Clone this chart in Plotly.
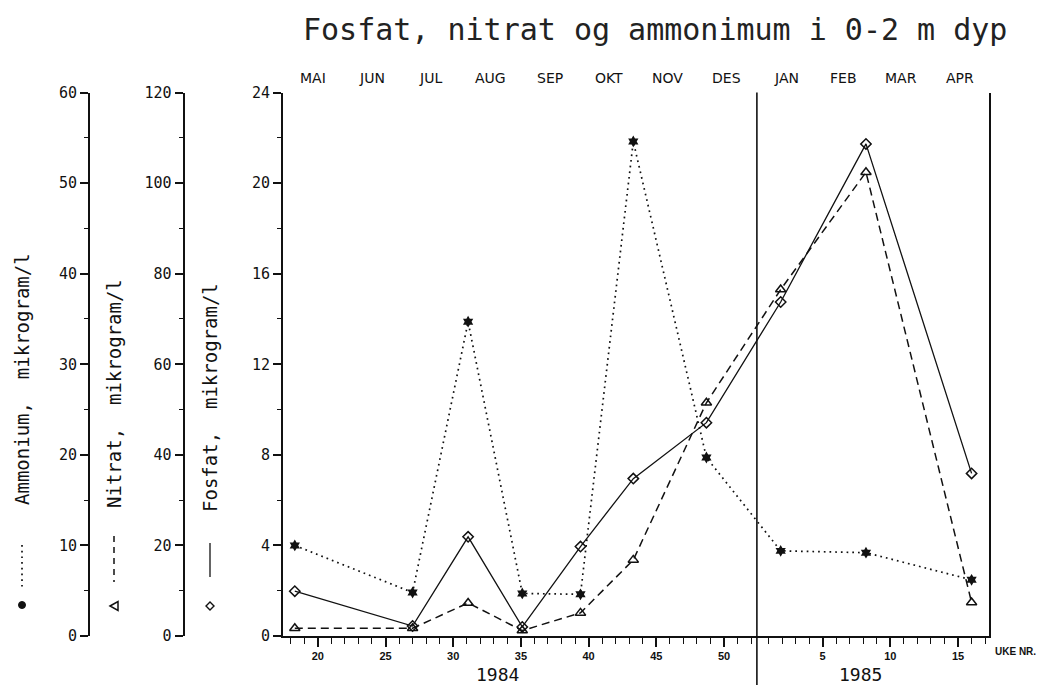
import datetime as dt
import plotly.graph_objects as go

# ---------------- data ----------------
# sampling weeks (UKE NR.), 1984 and 1985
week_1984 = [18.3, 27.0, 31.1, 35.1, 39.4, 43.3, 48.7]
week_1985 = [1.9, 8.2, 16.0]
# concentrations, mikrogram/l
fosfat = [1.98, 0.44, 4.38, 0.40, 3.95, 6.95, 9.42, 14.75, 21.73, 7.18]
nitrat = [1.7, 1.7, 7.3, 1.2, 5.1, 16.8, 51.5, 76.5, 102.4, 7.4]
ammonium = [10.0, 4.8, 34.7, 4.7, 4.6, 54.6, 19.7, 9.4, 9.2, 6.2]

# tick labels
months = ["MAI", "JUN", "JUL", "AUG", "SEP", "OKT", "NOV", "DES",
          "JAN", "FEB", "MAR", "APR"]
week_labels_1984 = [20, 25, 30, 35, 40, 45, 50]
week_labels_1985 = [5, 10, 15]
fosfat_ticks = [0, 4, 8, 12, 16, 20, 24]
nitrat_ticks = [0, 20, 40, 60, 80, 100, 120]
ammonium_ticks = [0, 10, 20, 30, 40, 50, 60]

title = "Fosfat, nitrat og ammonimum i 0-2 m dyp"

# ---------------- geometry helpers ----------------
W, H = 1041, 685
BASE = dt.date(1984, 1, 1)


def pos(year, week):
    """Position (days since 1984-01-01) of a week number in a year."""
    return (dt.date(year, 1, 1) - BASE).days + 7 * week - 1


def px(x):
    return x / W


def py(y):
    return 1 - y / H


month_dates = [dt.date(1984, m, 1) for m in range(5, 13)] + \
              [dt.date(1985, m, 1) for m in range(1, 6)]
month_bounds = [(d - BASE).days for d in month_dates]
month_mids = [(a + b) / 2 for a, b in zip(month_bounds[:-1], month_bounds[1:])]
x_range = [month_bounds[0], month_bounds[-1]]
year_line = (dt.date(1985, 1, 1) - BASE).days

x = [pos(1984, w) for w in week_1984] + [pos(1985, w) for w in week_1985]

major_vals = [pos(1984, w) for w in week_labels_1984] + [pos(1985, w) for w in week_labels_1985]
major_text = [str(w) for w in week_labels_1984] + [str(w) for w in week_labels_1985]
minor_vals = [pos(1984, w) for w in range(17, 53)] + [pos(1985, w) for w in range(1, 19)]
minor_vals = [v for v in minor_vals if x_range[0] < v < x_range[1]]

xd = [px(283), px(989)]
yd = [1 - 636 / H, 1 - 92.5 / H]

BLACK = "#111111"
MONO = "DejaVu Sans Mono, Liberation Mono, monospace"
SANS = "Liberation Sans, Arial, sans-serif"
DSANS = "DejaVu Sans, Liberation Sans, sans-serif"

fig = go.Figure()
fig.add_trace(go.Scatter(
    x=x, y=ammonium, yaxis="y2", mode="lines+markers", name="Ammonium",
    line=dict(color=BLACK, width=1.7, dash="1.7px,4px"),
    marker=dict(symbol="hexagram", size=9, color=BLACK)))
fig.add_trace(go.Scatter(
    x=x, y=nitrat, yaxis="y3", mode="lines+markers", name="Nitrat",
    line=dict(color=BLACK, width=1.5, dash="8px,5px"),
    marker=dict(symbol="triangle-up-open", size=9, color=BLACK, line=dict(width=1.5))))
fig.add_trace(go.Scatter(
    x=x, y=fosfat, mode="lines+markers", name="Fosfat",
    line=dict(color=BLACK, width=1.3),
    marker=dict(symbol="diamond-open", size=8, color=BLACK, line=dict(width=1.5))))

ytick = dict(ticks="outside", ticklen=8, tickwidth=1.5, tickcolor=BLACK,
             showline=True, linewidth=1.8, linecolor=BLACK, showgrid=False,
             zeroline=False, fixedrange=True,
             tickfont=dict(family=MONO, size=15, color=BLACK))

fig.update_layout(
    width=W, height=H, showlegend=False,
    paper_bgcolor="white", plot_bgcolor="white",
    margin=dict(l=0, r=0, t=0, b=0, autoexpand=False),
    xaxis=dict(domain=xd, range=x_range, anchor="y", showline=True, linewidth=2,
               linecolor=BLACK, showgrid=False, zeroline=False, fixedrange=True,
               tickmode="array", tickvals=major_vals, ticktext=major_text,
               ticks="outside", ticklen=9, tickwidth=1.5, tickcolor=BLACK,
               tickfont=dict(family=SANS, size=11, color=BLACK, weight="bold"),
               minor=dict(tickmode="array", tickvals=minor_vals, ticks="outside",
                          ticklen=6, tickwidth=1.3, tickcolor=BLACK, showgrid=False)),
    xaxis2=dict(overlaying="x", side="top", anchor="y", range=x_range,
                showline=True, linewidth=1.8, linecolor=BLACK, showgrid=False,
                zeroline=False, fixedrange=True, showticklabels=False,
                tickmode="array", tickvals=month_bounds, ticks="outside",
                ticklen=6, tickwidth=1.5, tickcolor=BLACK,
                minor=dict(tickmode="array", tickvals=minor_vals, ticks="inside",
                           ticklen=5, tickwidth=1.3, tickcolor=BLACK, showgrid=False)),
    xaxis3=dict(overlaying="x", side="top", anchor="y", range=x_range,
                showline=False, showgrid=False, zeroline=False, fixedrange=True,
                showticklabels=False, tickmode="array", tickvals=major_vals,
                ticks="inside", ticklen=9, tickwidth=1.5, tickcolor=BLACK),
    yaxis=dict(domain=yd, range=[0, 24], tickmode="array", tickvals=fosfat_ticks,
               mirror=True,
               minor=dict(tickmode="array", tickvals=[v + 2 for v in fosfat_ticks[:-1]],
                          ticks="outside", ticklen=4, tickwidth=1.3, tickcolor=BLACK),
               **ytick),
    yaxis2=dict(overlaying="y", anchor="free", position=px(89), side="left",
                range=[0, 60], tickmode="array", tickvals=ammonium_ticks,
                minor=dict(tickmode="array", tickvals=[v + 5 for v in ammonium_ticks[:-1]],
                           ticks="outside", ticklen=4, tickwidth=1.3, tickcolor=BLACK),
                **ytick),
    yaxis3=dict(overlaying="y", anchor="free", position=px(183.5), side="left",
                range=[0, 120], tickmode="array", tickvals=nitrat_ticks,
                minor=dict(tickmode="array", tickvals=[v + 10 for v in nitrat_ticks[:-1]],
                           ticks="outside", ticklen=4, tickwidth=1.3, tickcolor=BLACK),
                **ytick),
)

shapes = [
    # year boundary line
    dict(type="line", xref="x", yref="paper", x0=year_line, x1=year_line,
         y0=0, y1=yd[1], line=dict(color=BLACK, width=1.6)),
    # legend line samples
    dict(type="line", xref="paper", yref="paper", x0=px(22), x1=px(22),
         y0=py(545), y1=py(590), line=dict(color=BLACK, width=1.7, dash="1.7px,4px")),
    dict(type="line", xref="paper", yref="paper", x0=px(114), x1=px(114),
         y0=py(536), y1=py(582), line=dict(color=BLACK, width=1.5, dash="6px,5px")),
    dict(type="line", xref="paper", yref="paper", x0=px(210), x1=px(210),
         y0=py(543), y1=py(577), line=dict(color=BLACK, width=1.3)),
    # legend markers
    dict(type="circle", xref="paper", yref="paper", x0=px(18.5), x1=px(25.5),
         y0=py(601.5), y1=py(608.5), fillcolor=BLACK, line=dict(color=BLACK, width=1)),
    dict(type="path", xref="paper", yref="paper",
         path=f"M {px(110)} {py(606)} L {px(118)} {py(601.5)} L {px(118)} {py(610.5)} Z",
         line=dict(color=BLACK, width=1.5)),
    dict(type="path", xref="paper", yref="paper",
         path=f"M {px(206)} {py(606)} L {px(210)} {py(602)} L {px(214)} {py(606)} L {px(210)} {py(610)} Z",
         line=dict(color=BLACK, width=1.4)),
]
fig.update_layout(shapes=shapes)

ann = [
    dict(text=title, x=px(655), y=py(29), font=dict(family=MONO, size=30, color="#222222")),
    dict(text="Ammonium,  mikrogram/l", x=px(22), y=py(379), textangle=-90,
         font=dict(family=MONO, size=19, color=BLACK)),
    dict(text="Nitrat,  mikrogram/l", x=px(114), y=py(394), textangle=-90,
         font=dict(family=MONO, size=19, color=BLACK)),
    dict(text="Fosfat,  mikrogram/l", x=px(210), y=py(398), textangle=-90,
         font=dict(family=MONO, size=19, color=BLACK)),
    dict(text="1984", x=px(497), y=py(674), font=dict(family=MONO, size=18, color=BLACK)),
    dict(text="1985", x=px(860), y=py(674), font=dict(family=MONO, size=18, color=BLACK)),
    dict(text="UKE NR.", x=px(993), y=py(651), xanchor="left",
         font=dict(family=SANS, size=10, color=BLACK, weight="bold")),
]
for a in ann:
    a.setdefault("xref", "paper")
    a.setdefault("yref", "paper")
    a.setdefault("showarrow", False)
    a.setdefault("xanchor", "center")
    a.setdefault("yanchor", "middle")
for m, xm in zip(months, month_mids):
    ann.append(dict(text=m, x=xm, xref="x", y=py(78), yref="paper", showarrow=False,
                    xanchor="center", yanchor="middle",
                    font=dict(family=DSANS, size=14, color=BLACK)))
fig.update_layout(annotations=ann)

fig.write_html("out.html", config={"displayModeBar": False},
               post_script="document.body.style.margin='0';document.body.style.padding='0';")
